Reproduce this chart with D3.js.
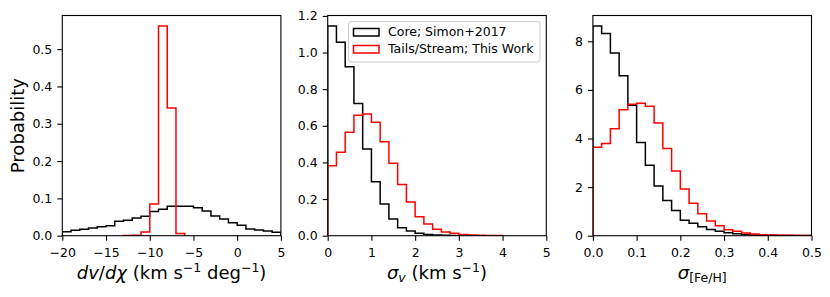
<!DOCTYPE html>
<html>
<head>
<meta charset="utf-8">
<script src="https://cdn.jsdelivr.net/npm/d3@7"></script>
<style>
  body { margin: 0; background: #fff; }
  svg { display: block; font-family: 'DejaVu Sans', sans-serif; }
</style>
</head>
<body>
<div id="container"></div>
<script>
// dv/dchi, bins of 1 km/s/deg
const gradEdgesCore = d3.range(-20, 6, 1)
const gradCore = [0.0108, 0.0144, 0.017, 0.0207, 0.0243, 0.027, 0.0387, 0.0414, 0.0477, 0.0523,
  0.065, 0.071, 0.079, 0.079, 0.079, 0.075, 0.066, 0.053, 0.045, 0.035,
  0.028, 0.018, 0.0153, 0.0126, 0.009]
const gradEdgesTails = d3.range(-13, -5, 1)
const gradTails = [0.0005, 0.001, 0.01, 0.085, 0.562, 0.342, 0.006]

// sigma_v, bins of 0.2 km/s
const sigvEdgesCore = d3.range(0, 16).map(i => i * 0.2)
const sigvCore = [1.145, 1.056, 0.922, 0.722, 0.473, 0.295, 0.173, 0.091, 0.044, 0.025,
  0.013, 0.007, 0.004, 0.002, 0.001]
const sigvEdgesTails = d3.range(0, 21).map(i => i * 0.2)
const sigvTails = [0.382, 0.456, 0.565, 0.658, 0.664, 0.62, 0.513, 0.395, 0.28, 0.184,
  0.104, 0.064, 0.035, 0.02, 0.013, 0.007, 0.004, 0.002, 0.0015, 0.001]

// sigma_[Fe/H], bins of 0.02 dex
const sigfEdges = d3.range(0, 26).map(i => i * 0.02)
const sigfCore = [8.63, 8.32, 7.52, 6.58, 5.37, 3.84, 2.90, 2.05, 1.45, 1.04,
  0.64, 0.51, 0.37, 0.26, 0.18, 0.12, 0.08, 0.05, 0.03, 0.02,
  0.015, 0.01, 0.008, 0.006, 0.005]
const sigfTails = [3.64, 3.79, 4.40, 5.18, 5.41, 5.45, 5.33, 4.64, 3.59, 2.66,
  1.92, 1.34, 0.90, 0.60, 0.41, 0.25, 0.18, 0.11, 0.07, 0.04,
  0.03, 0.02, 0.015, 0.01, 0.008]

const gradTicksX = [-20, -15, -10, -5, 0, 5]
const gradTicksY = [0, 0.1, 0.2, 0.3, 0.4, 0.5]
const sigvTicksX = [0, 1, 2, 3, 4, 5]
const sigvTicksY = [0, 0.2, 0.4, 0.6, 0.8, 1.0, 1.2]
const sigfTicksX = [0, 0.1, 0.2, 0.3, 0.4, 0.5]
const sigfTicksY = [0, 2, 4, 6, 8]

const legendLabels = ['Core; Simon+2017', 'Tails/Stream; This Work']
const colors = ['#000000', '#ff0000']

const svgW = 830
const svgH = 297
const plotTop = 15.5
const plotBottom = 235.7
const panelW = 218.6
const tickFont = 12.5
const labelFont = 18

const svg = d3.select('#container').append('svg')
  .attr('width', svgW)
  .attr('height', svgH)

const minus = s => s.replace('-', '\u2212')

function panel (id, left, xDomain, series, xTicks, yTicks, xFmt, yFmt) {
  let yMax = 1.05 * d3.max(series, s => d3.max(s.values))
  let x = d3.scaleLinear().domain(xDomain).range([left, left + panelW])
  let y = d3.scaleLinear().domain([0, yMax]).range([plotBottom, plotTop])
  let g = svg.append('g')

  g.append('clipPath').attr('id', 'clip' + id)
    .append('rect')
    .attr('x', left).attr('y', plotTop)
    .attr('width', panelW).attr('height', plotBottom - plotTop)

  let line = d3.line().x(d => x(d[0])).y(d => y(d[1]))
  series.forEach(function (s) {
    let pts = [[s.edges[0], 0]]
    s.values.forEach(function (v, i) {
      pts.push([s.edges[i], v])
      pts.push([s.edges[i + 1], v])
    })
    pts.push([s.edges[s.values.length], 0])
    g.append('path')
      .attr('d', line(pts))
      .attr('fill', 'none')
      .attr('stroke', s.color)
      .attr('stroke-width', 1.5)
      .attr('stroke-linejoin', 'miter')
      .attr('clip-path', 'url(#clip' + id + ')')
  })

  let xAxis = g.append('g')
    .attr('transform', 'translate(0,' + plotBottom + ')')
    .call(d3.axisBottom(x).tickValues(xTicks).tickFormat(d => minus(xFmt(d)))
      .tickSizeInner(5).tickSizeOuter(0).tickPadding(7))
  let yAxis = g.append('g')
    .attr('transform', 'translate(' + left + ',0)')
    .call(d3.axisLeft(y).tickValues(yTicks).tickFormat(yFmt)
      .tickSizeInner(5).tickSizeOuter(0).tickPadding(5))
  ;[xAxis, yAxis].forEach(function (a) {
    a.select('.domain').remove()
    a.selectAll('line').attr('stroke', '#000').attr('stroke-width', 1.1)
    a.selectAll('text').attr('font-size', tickFont).attr('fill', '#000')
      .attr('font-family', 'DejaVu Sans')
  })

  g.append('rect')
    .attr('x', left).attr('y', plotTop)
    .attr('width', panelW).attr('height', plotBottom - plotTop)
    .attr('fill', 'none')
    .attr('stroke', '#000')
    .attr('stroke-width', 1.1)

  return { x: x, y: y, g: g, cx: left + panelW / 2 }
}

let p1 = panel(1, 62.3, [-20, 5], [
  { edges: gradEdgesCore, values: gradCore, color: colors[0] },
  { edges: gradEdgesTails, values: gradTails, color: colors[1] }
], gradTicksX, gradTicksY, d3.format('d'), d3.format('.1f'))

let p2 = panel(2, 327.7, [0, 5], [
  { edges: sigvEdgesCore, values: sigvCore, color: colors[0] },
  { edges: sigvEdgesTails, values: sigvTails, color: colors[1] }
], sigvTicksX, sigvTicksY, d3.format('d'), d3.format('.1f'))

let p3 = panel(3, 592.9, [0, 0.5], [
  { edges: sigfEdges, values: sigfCore, color: colors[0] },
  { edges: sigfEdges, values: sigfTails, color: colors[1] }
], sigfTicksX, sigfTicksY, d3.format('.1f'), d3.format('d'))

// axis labels
svg.append('text')
  .attr('transform', 'translate(24,' + ((plotTop + plotBottom) / 2) + ') rotate(-90)')
  .attr('text-anchor', 'middle')
  .attr('font-size', labelFont)
  .text('Probability')

const supSize = 12.5
const supShift = 7

function xLabel (cx) {
  return svg.append('text')
    .attr('x', cx).attr('y', 278.5)
    .attr('text-anchor', 'middle')
    .attr('font-size', labelFont)
}

let xl1 = xLabel(p1.cx)
xl1.append('tspan').attr('font-style', 'italic').text('dv')
xl1.append('tspan').text('/')
xl1.append('tspan').attr('font-style', 'italic').text('d\u03c7')
xl1.append('tspan').text(' (km s')
xl1.append('tspan').attr('dy', -supShift).attr('font-size', supSize).text('\u22121')
xl1.append('tspan').attr('dy', supShift).text(' deg')
xl1.append('tspan').attr('dy', -supShift).attr('font-size', supSize).text('\u22121')
xl1.append('tspan').attr('dy', supShift).text(')')

let xl2 = xLabel(p2.cx)
xl2.append('tspan').attr('font-style', 'italic').text('\u03c3')
xl2.append('tspan').attr('font-style', 'italic').attr('font-size', supSize).attr('dy', 3).text('v')
xl2.append('tspan').attr('dy', -3).text(' (km s')
xl2.append('tspan').attr('dy', -supShift).attr('font-size', supSize).text('\u22121')
xl2.append('tspan').attr('dy', supShift).text(')')

let xl3 = xLabel(p3.cx)
xl3.append('tspan').attr('font-style', 'italic').text('\u03c3')
xl3.append('tspan').attr('font-size', supSize).attr('dy', 3.5).text('[Fe/H]')

// legend
let lg = svg.append('g')
lg.append('rect')
  .attr('x', 348.5).attr('y', 21.5)
  .attr('width', 191.5).attr('height', 40.5)
  .attr('rx', 2.5)
  .attr('fill', '#fff').attr('fill-opacity', 0.8)
  .attr('stroke', '#cccccc').attr('stroke-width', 1)
legendLabels.forEach(function (label, i) {
  let yy = 32 + i * 17
  lg.append('rect')
    .attr('x', 353.5).attr('y', yy - 3.5)
    .attr('width', 25.5).attr('height', 7.5)
    .attr('fill', 'none')
    .attr('stroke', colors[i]).attr('stroke-width', 1.5)
  lg.append('text')
    .attr('x', 388).attr('y', yy + 4.4)
    .attr('font-size', tickFont)
    .text(label)
})
</script>
</body>
</html>
